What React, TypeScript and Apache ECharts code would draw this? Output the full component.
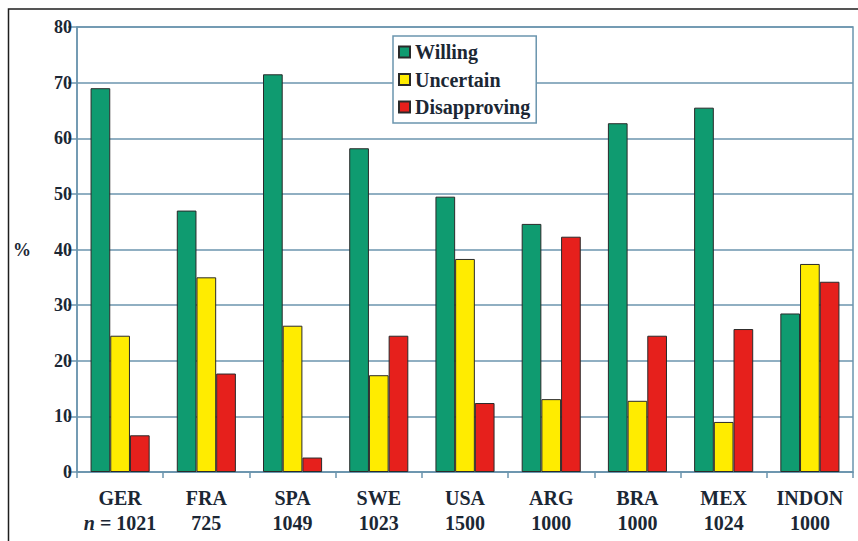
import React, { useEffect, useRef } from "react";
import * as echarts from "echarts";

const countries = ["GER", "FRA", "SPA", "SWE", "USA", "ARG", "BRA", "MEX", "INDON"];
const sampleSizes = ["1021", "725", "1049", "1023", "1500", "1000", "1000", "1024", "1000"];
const willing = [69.0, 47.0, 71.5, 58.2, 49.5, 44.6, 62.7, 65.5, 28.5];
const uncertain = [24.5, 35.0, 26.3, 17.4, 38.3, 13.1, 12.8, 9.0, 37.4];
const disapproving = [6.6, 17.7, 2.6, 24.5, 12.4, 42.3, 24.5, 25.7, 34.2];
const seriesNames = ["Willing", "Uncertain", "Disapproving"];
const seriesColors = ["#0f9b70", "#ffec00", "#e6201c"];

const FONT = "Liberation Serif";
const TEXT = "#1b2734";
const GRID = "#6b95ae";

export default function App() {
  const ref = useRef<HTMLDivElement>(null);
  useEffect(() => {
    if (!ref.current) return;
    const chart = echarts.init(ref.current, null, { renderer: "svg" });
    const data = [willing, uncertain, disapproving];
    chart.setOption({
      animation: false,
      backgroundColor: "#ffffff",
      textStyle: { fontFamily: FONT },
      grid: {
        left: 77,
        right: 5,
        top: 27,
        bottom: 69,
        show: true,
        borderColor: GRID,
        borderWidth: 1.5,
      },
      legend: {
        orient: "vertical",
        left: 393,
        top: 36,
        backgroundColor: "#ffffff",
        borderColor: GRID,
        borderWidth: 1.5,
        padding: [6, 6, 6, 5],
        itemWidth: 11,
        itemHeight: 11,
        itemGap: 7.5,
        icon: "rect",
        textStyle: { fontFamily: FONT, fontWeight: "bold", fontSize: 20, color: TEXT },
        data: seriesNames,
      },
      xAxis: {
        type: "category",
        data: countries.map((c, i) => (i === 0 ? `${c}\n{n|n} = ${sampleSizes[i]}` : `${c}\n${sampleSizes[i]}`)),
        axisLine: { show: true, lineStyle: { color: GRID, width: 1.5 } },
        axisTick: { show: true, length: 6, lineStyle: { color: GRID, width: 1.5 } },
        axisLabel: {
          interval: 0,
          fontFamily: FONT,
          fontWeight: "bold",
          fontSize: 20,
          color: TEXT,
          lineHeight: 25,
          margin: 13,
          rich: {
            n: { fontFamily: FONT, fontWeight: "bold", fontStyle: "italic", fontSize: 20, color: TEXT, lineHeight: 25 },
          },
        },
      },
      yAxis: {
        type: "value",
        min: 0,
        max: 80,
        interval: 10,
        axisLine: { show: true, lineStyle: { color: GRID, width: 1.5 } },
        axisTick: { show: true, length: 9, lineStyle: { color: GRID, width: 1.5 } },
        splitLine: { show: true, lineStyle: { color: GRID, width: 1.5 } },
        axisLabel: { fontFamily: FONT, fontWeight: "bold", fontSize: 18, color: TEXT, margin: 5 },
      },
      graphic: [
        {
          type: "text",
          x: 22,
          y: 250,
          style: { text: "%", fontFamily: FONT, fontWeight: "bold", fontSize: 18, fill: TEXT, align: "center", verticalAlign: "middle" },
        },
        {
          type: "rect",
          shape: { x: 8.5, y: 9, width: 900, height: 600 },
          style: { fill: "none", stroke: "#1e1e1e", lineWidth: 1.5 },
        },
      ],
      series: seriesNames.map((name, i) => ({
        name,
        type: "bar",
        data: data[i],
        barWidth: 19.7,
        barGap: "0%",
        itemStyle: { color: seriesColors[i], borderColor: "#2a2a2a", borderWidth: 1 },
      })),
    });
    return () => chart.dispose();
  }, []);
  return <div ref={ref} style={{ position: "fixed", left: 0, top: 0, width: 858, height: 541 }} />;
}
